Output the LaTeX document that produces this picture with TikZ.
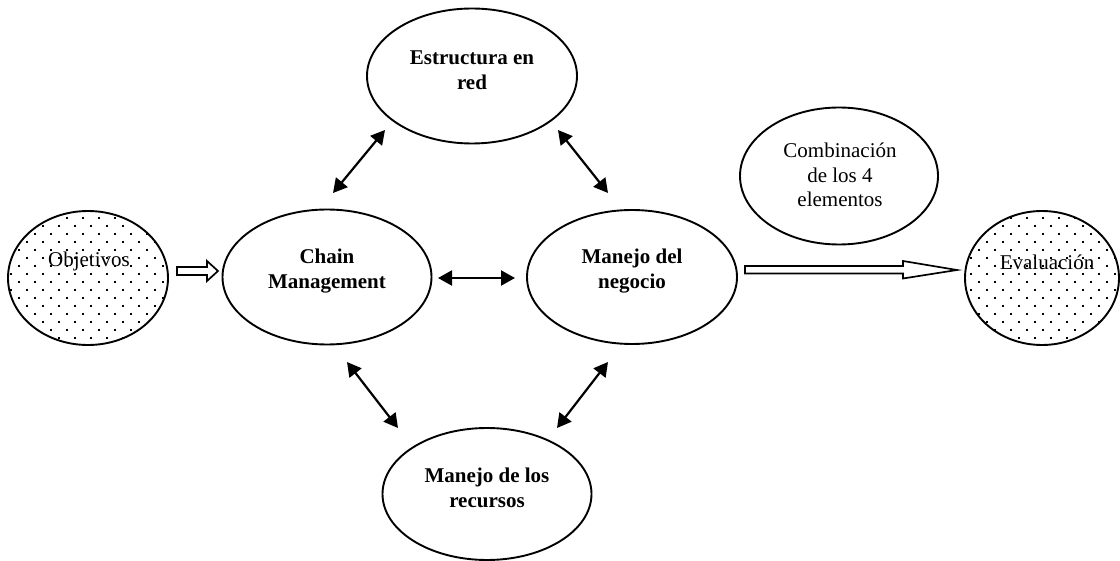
\documentclass[tikz,border=0pt]{standalone}
\usepackage{fontspec}
\setmainfont{Liberation Serif}
\usetikzlibrary{arrows.meta,shapes.geometric}
\tikzset{
  ell/.style={ellipse, draw, line width=1.9pt, inner sep=0pt},
  txt/.style={align=center, inner sep=0pt, font=\fontsize{21}{24.5}\selectfont},
  btxt/.style={txt, font=\fontsize{21}{24.5}\selectfont\bfseries},
  dbl/.style={line width=2.2pt, {Triangle[length=14pt,width=15pt]}-{Triangle[length=14pt,width=15pt]}},
  blockarrow/.style={draw, line width=1.7pt, fill=white, line join=miter},
  dot/.style={fill=black}
}
\begin{document}
\begin{tikzpicture}[x=1pt,y=-1pt]
\useasboundingbox (0,0) rectangle (1120,561);
% dotted ellipses
\begin{scope}
  \clip (88,278) ellipse [x radius=80, y radius=67];
  \foreach \r in {0,...,17} \foreach \c in {0,...,10}
    \fill[dot] ({9.7+\c*16+mod(\r,2)*8},{209+\r*8}) rectangle ++(2,2);
\end{scope}
\begin{scope}
  \clip (1042,278) ellipse [x radius=77, y radius=67];
  \foreach \r in {0,...,17} \foreach \c in {0,...,10}
    \fill[dot] ({953.7+\c*16+mod(\r,2)*8},{209+\r*8}) rectangle ++(2,2);
\end{scope}
\node[ell, minimum width=160pt, minimum height=134pt] (obj) at (88,278) {};
\node[txt] (objt) at (89,261) {Objetivos};
\node[ell, minimum width=154pt, minimum height=134pt] (eva) at (1042,278) {};
\node[txt] (evat) at (1047,262) {Evaluación};
% main ellipses
\node[ell, minimum width=210pt, minimum height=135pt] (est) at (472,76) {};
\node[btxt] (estt) at (472,70) {Estructura en\\red};
\node[ell, minimum width=209pt, minimum height=135pt] (chain) at (327,277) {};
\node[btxt] (chaint) at (327,271) {Chain\\Management};
\node[ell, minimum width=210pt, minimum height=134pt] (neg) at (632,277) {};
\node[btxt] (negt) at (632,271) {Manejo del\\negocio};
\node[ell, minimum width=209pt, minimum height=132pt] (rec) at (487,494) {};
\node[btxt] (rect) at (487,488) {Manejo de los\\recursos};
\node[ell, minimum width=198pt, minimum height=137pt] (comb) at (839,176) {};
\node[txt] (combt) at (840,175) {Combinación\\de los 4\\elementos};
% connector end points
\coordinate (c1) at (333,193); \coordinate (e1) at (385,130);
\coordinate (e2) at (558,130); \coordinate (n1) at (608,193);
\coordinate (c2) at (347,362); \coordinate (r1) at (398,428);
\coordinate (n2) at (608,362); \coordinate (r2) at (557,428);
\coordinate (c3) at (438,278); \coordinate (n3) at (515,278);
\draw[dbl] (c1) -- (e1);
\draw[dbl] (e2) -- (n1);
\draw[dbl] (c2) -- (r1);
\draw[dbl] (n2) -- (r2);
\draw[dbl] (c3) -- (n3);
% block arrows
\coordinate (oa) at (177,271);
\draw[blockarrow] (oa) ++(0,-4) -- ++(30,0) -- ++(0,-6) -- (218,271) -- (207,281) -- ++(0,-6) -- ++(-30,0) -- cycle;
\coordinate (ba) at (745,270);
\draw[blockarrow] (ba) ++(0,-4) -- ++(158,0) -- ++(0,-5) -- (957,270) -- (903,278.5) -- ++(0,-5) -- ++(-158,0) -- cycle;
\end{tikzpicture}
\end{document}
